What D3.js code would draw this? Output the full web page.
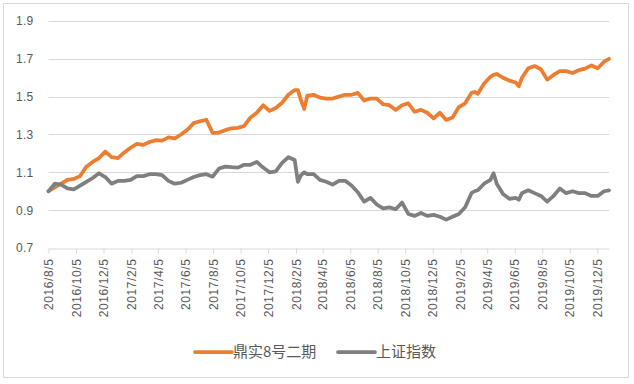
<!DOCTYPE html>
<html>
<head>
<meta charset="utf-8">
<script src="https://cdn.jsdelivr.net/npm/d3@7"></script>
<style>
  body { margin: 0; background: #fff; }
  #chart text { fill: #595959; }
</style>
</head>
<body>
<div id="chart"></div>
<script>
const width = 634;
const height = 384;

// weekly-ish readings
const dates = [
  "2016-08-05","2016-08-19","2016-09-02","2016-09-16","2016-09-30","2016-10-14","2016-10-28","2016-11-11","2016-11-25","2016-12-09","2016-12-23",
  "2017-01-06","2017-01-20","2017-02-03","2017-02-17","2017-03-03","2017-03-17","2017-03-31","2017-04-14","2017-04-28","2017-05-12","2017-05-26",
  "2017-06-09","2017-06-23","2017-07-07","2017-07-21","2017-08-04","2017-08-18","2017-09-01","2017-09-15","2017-09-29","2017-10-13","2017-10-27",
  "2017-11-10","2017-11-24","2017-12-08","2017-12-22",
  "2018-01-05","2018-01-19","2018-02-02","2018-02-09","2018-02-16","2018-02-23","2018-03-02","2018-03-16","2018-03-30","2018-04-13","2018-04-27",
  "2018-05-11","2018-05-25","2018-06-08","2018-06-22","2018-07-06","2018-07-20","2018-08-03","2018-08-17","2018-08-31","2018-09-14","2018-09-28",
  "2018-10-12","2018-10-26","2018-11-09","2018-11-23","2018-12-07","2018-12-21",
  "2019-01-04","2019-01-18","2019-02-01","2019-02-15","2019-03-01","2019-03-08","2019-03-15","2019-03-29","2019-04-12","2019-04-19","2019-04-26",
  "2019-05-10","2019-05-24","2019-06-07","2019-06-14","2019-06-21","2019-07-05","2019-07-19","2019-08-02","2019-08-16","2019-08-30","2019-09-13",
  "2019-09-27","2019-10-11","2019-10-25","2019-11-08","2019-11-22","2019-12-06","2019-12-20","2019-12-31"
];

const fund = [
  1.000,1.020,1.040,1.060,1.065,1.080,1.130,1.155,1.175,1.210,1.180,
  1.175,1.205,1.230,1.250,1.245,1.260,1.270,1.268,1.285,1.280,1.300,
  1.325,1.360,1.370,1.378,1.308,1.310,1.323,1.333,1.335,1.345,1.390,
  1.415,1.455,1.425,1.440,
  1.468,1.510,1.535,1.535,1.480,1.435,1.505,1.510,1.495,1.490,1.490,
  1.500,1.510,1.510,1.520,1.480,1.490,1.490,1.460,1.455,1.430,1.455,
  1.465,1.420,1.430,1.415,1.385,1.415,
  1.377,1.390,1.445,1.465,1.520,1.525,1.515,1.570,1.605,1.615,1.620,
  1.600,1.585,1.575,1.555,1.600,1.650,1.662,1.645,1.590,1.615,1.635,
  1.635,1.625,1.640,1.648,1.665,1.650,1.685,1.700
];

const index = [
  1.000,1.040,1.035,1.015,1.010,1.030,1.050,1.070,1.095,1.075,1.040,
  1.055,1.055,1.060,1.080,1.080,1.090,1.090,1.085,1.055,1.040,1.045,
  1.060,1.075,1.085,1.090,1.077,1.120,1.130,1.127,1.125,1.140,1.140,
  1.155,1.125,1.100,1.105,
  1.150,1.180,1.165,1.050,1.085,1.100,1.090,1.090,1.060,1.050,1.035,
  1.055,1.055,1.030,0.995,0.945,0.965,0.930,0.910,0.915,0.905,0.940,
  0.880,0.870,0.885,0.870,0.875,0.865,
  0.850,0.865,0.880,0.915,0.990,1.000,1.005,1.040,1.060,1.095,1.040,
  0.985,0.960,0.965,0.955,0.990,1.005,0.990,0.975,0.945,0.975,1.015,
  0.990,1.000,0.990,0.990,0.975,0.975,1.000,1.005
];

const seriesNames = ["鼎实8号二期", "上证指数"];
const colors = ["#ED7D31", "#7F7F7F"];

const xTicks = [
  "2016/8/5","2016/10/5","2016/12/5","2017/2/5","2017/4/5","2017/6/5","2017/8/5",
  "2017/10/5","2017/12/5","2018/2/5","2018/4/5","2018/6/5","2018/8/5","2018/10/5",
  "2018/12/5","2019/2/5","2019/4/5","2019/6/5","2019/8/5","2019/10/5","2019/12/5"
];
const yTicks = [0.7, 0.9, 1.1, 1.3, 1.5, 1.7, 1.9];

const parseDate = d3.timeParse("%Y-%m-%d");
const parseTick = d3.timeParse("%Y/%m/%d");

const svg = d3
  .select("#chart")
  .append("svg")
  .attr("width", width)
  .attr("height", height)
  .style("font-family", "'DejaVu Sans', sans-serif");

// outer chart border
svg
  .append("rect")
  .attr("x", 3.5)
  .attr("y", 3.5)
  .attr("width", 625)
  .attr("height", 374)
  .attr("fill", "#fff")
  .attr("stroke", "#D9D9D9");

const xScale = d3
  .scaleTime()
  .domain([parseDate("2016-08-05"), parseDate("2019-12-31")])
  .range([48.5, 609]);

const yScale = d3.scaleLinear().domain([0.7, 1.9]).range([248, 21]);

// gridlines
svg
  .append("g")
  .selectAll("line")
  .data(yTicks.slice(1))
  .enter()
  .append("line")
  .attr("x1", xScale.range()[0])
  .attr("x2", xScale.range()[1])
  .attr("y1", (d) => Math.round(yScale(d)) + 0.5)
  .attr("y2", (d) => Math.round(yScale(d)) + 0.5)
  .attr("stroke", "#D9D9D9");

const yAxis = d3
  .axisLeft(yScale)
  .tickValues(yTicks)
  .tickSize(0)
  .tickPadding(15)
  .tickFormat(d3.format(".1f"));

svg
  .append("g")
  .attr("id", "y-axis")
  .attr("transform", "translate(48.5,0)")
  .call(yAxis)
  .call((g) => g.select(".domain").remove())
  .selectAll("text")
  .style("font-size", "12px")
  .style("letter-spacing", "0.3px");

const xAxis = d3
  .axisBottom(xScale)
  .tickValues(xTicks.map(parseTick))
  .tickSize(5)
  .tickSizeOuter(0)
  .tickFormat((d, i) => xTicks[i]);

const gx = svg
  .append("g")
  .attr("id", "x-axis")
  .attr("transform", "translate(0,248.5)")
  .call(xAxis);

gx.select(".domain").attr("stroke", "#D9D9D9");
gx.selectAll(".tick line").attr("stroke", "#D9D9D9");
gx.selectAll(".tick text")
  .style("font-size", "12px")
  .style("letter-spacing", "0.6px")
  .attr("text-anchor", "end")
  .attr("transform", "rotate(-90)")
  .attr("x", -10)
  .attr("y", 0)
  .attr("dy", "0.35em");

const line = d3
  .line()
  .x((d) => xScale(d.date))
  .y((d) => yScale(d.value));

[fund, index].forEach((values, s) => {
  const rows = values.map((v, i) => ({ date: parseDate(dates[i]), value: v }));
  svg
    .append("path")
    .datum(rows)
    .attr("fill", "none")
    .attr("stroke", colors[s])
    .attr("stroke-width", 3.75)
    .attr("stroke-linejoin", "round")
    .attr("stroke-linecap", "round")
    .attr("d", line);
});

// legend
const legendX = [195, 338];
const legend = svg
  .selectAll(".legend")
  .data(seriesNames)
  .enter()
  .append("g")
  .attr("class", "legend")
  .attr("transform", (d, i) => "translate(" + legendX[i] + ",352)");

legend
  .append("line")
  .attr("x1", 0)
  .attr("x2", 37)
  .attr("stroke", (d, i) => colors[i])
  .attr("stroke-width", 3.75)
  .attr("stroke-linecap", "round");

legend
  .append("text")
  .attr("x", 38)
  .attr("dy", "0.35em")
  .style("font-family", "'Noto Sans CJK SC', sans-serif")
  .style("font-size", "15px")
  .text((d) => d);
</script>
</body>
</html>
